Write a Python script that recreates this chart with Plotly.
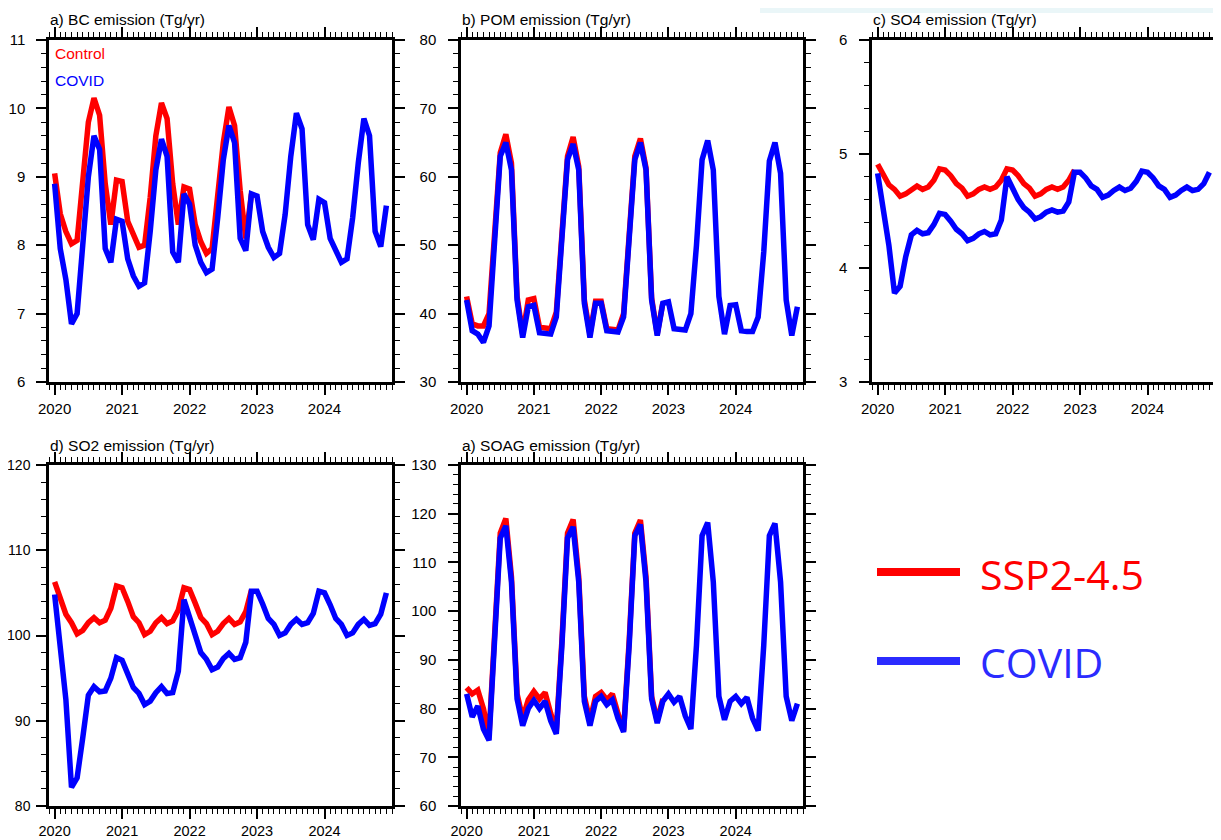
import plotly.graph_objects as go

# page is 1221x840; the html body has an 8px margin, so the figure is placed at (8, 8)
OFF = 8
W, H = 1221 - OFF, 840 - OFF

# ---------------- data (monthly, Jan 2020 .. Dec 2024) ----------------
year_ticks = [2020, 2021, 2022, 2023, 2024]
year_labels = ["2020", "2021", "2022", "2023", "2024"]
n_ctrl = 36
n_covid = 60

bc_ctrl = [9.05, 8.46, 8.2, 8.02, 8.07, 9.0, 9.8, 10.15, 9.9, 8.9, 8.3, 8.95,
           8.93, 8.35, 8.15, 7.97, 8.0, 8.7, 9.6, 10.08, 9.85, 8.9, 8.3, 8.85,
           8.82, 8.3, 8.05, 7.88, 7.95, 8.7, 9.5, 10.02, 9.75, 8.8, 8.1, 8.75]
bc_covid = [8.9, 7.95, 7.5, 6.85, 7.0, 8.1, 9.0, 9.6, 9.4, 7.95, 7.75, 8.38,
            8.35, 7.8, 7.55, 7.4, 7.45, 8.2, 9.1, 9.55, 9.3, 7.9, 7.75, 8.75,
            8.6, 8.0, 7.75, 7.6, 7.65, 8.4, 9.25, 9.75, 9.5, 8.1, 7.92, 8.75,
            8.72, 8.2, 7.97, 7.82, 7.88, 8.45, 9.3, 9.93, 9.7, 8.3, 8.08, 8.67,
            8.62, 8.1, 7.9, 7.75, 7.8, 8.4, 9.2, 9.85, 9.6, 8.2, 7.98, 8.58]

pom_ctrl = [42.5, 38.5, 38.2, 38.2, 40.0, 51.0, 63.5, 66.2, 62.0, 42.5, 37.0, 42.0,
            42.2, 38.0, 37.8, 37.8, 40.2, 51.0, 63.0, 65.8, 61.5, 42.0, 37.0, 41.8,
            41.8, 37.8, 37.6, 37.6, 40.0, 50.5, 63.0, 65.6, 61.3, 42.3, 37.0, 41.6]
pom_covid = [42.0, 37.5, 37.0, 35.8, 38.2, 50.0, 63.0, 65.0, 61.0, 42.0, 36.5, 41.0,
             41.2, 37.2, 37.0, 37.0, 39.5, 50.0, 62.5, 64.8, 61.0, 41.5, 36.5, 41.5,
             41.5, 37.5, 37.3, 37.3, 39.5, 50.0, 62.5, 65.0, 61.0, 42.0, 36.8, 41.5,
             41.7, 37.8, 37.6, 37.6, 40.0, 50.0, 62.5, 65.3, 61.0, 42.5, 37.0, 41.2,
             41.3, 37.5, 37.4, 37.4, 39.5, 49.0, 62.3, 65.0, 60.5, 42.0, 36.8, 41.0]

so4_ctrl = [4.91, 4.82, 4.73, 4.69, 4.63, 4.65, 4.69, 4.72, 4.69, 4.71, 4.77, 4.87,
            4.86, 4.81, 4.74, 4.70, 4.63, 4.65, 4.69, 4.71, 4.69, 4.71, 4.77, 4.87,
            4.86, 4.81, 4.74, 4.70, 4.63, 4.65, 4.69, 4.71, 4.69, 4.71, 4.77, 4.86]
so4_covid = [4.83, 4.52, 4.20, 3.78, 3.84, 4.10, 4.29, 4.33, 4.30, 4.31, 4.38, 4.48,
             4.47, 4.41, 4.34, 4.30, 4.24, 4.26, 4.30, 4.32, 4.29, 4.30, 4.42, 4.80,
             4.70, 4.60, 4.53, 4.49, 4.43, 4.45, 4.49, 4.51, 4.49, 4.50, 4.58, 4.84,
             4.84, 4.79, 4.72, 4.69, 4.62, 4.64, 4.68, 4.71, 4.68, 4.70, 4.76, 4.85,
             4.84, 4.79, 4.72, 4.69, 4.62, 4.64, 4.68, 4.71, 4.68, 4.69, 4.74, 4.84]

so2_ctrl = [106.3, 104.2, 102.5, 101.5, 100.2, 100.6, 101.5, 102.1, 101.5, 101.8, 103.2, 105.8,
            105.6, 104.0, 102.2, 101.5, 100.1, 100.5, 101.5, 102.1, 101.4, 101.7, 103.0, 105.6,
            105.4, 103.8, 102.1, 101.4, 100.1, 100.5, 101.4, 102.0, 101.3, 101.6, 102.8, 105.3]
so2_covid = [104.8, 99.0, 92.5, 82.2, 83.3, 88.0, 93.0, 94.0, 93.4, 93.5, 95.0, 97.4,
             97.1, 95.5, 93.9, 93.2, 91.9, 92.3, 93.3, 94.0, 93.2, 93.3, 95.8, 104.2,
             102.0, 100.0, 98.0, 97.2, 96.0, 96.3, 97.3, 97.9, 97.2, 97.4, 99.2, 105.2,
             105.2, 103.7, 102.0, 101.3, 100.0, 100.3, 101.3, 101.9, 101.3, 101.5, 102.6, 105.2,
             105.0, 103.6, 102.0, 101.3, 100.0, 100.3, 101.3, 101.9, 101.2, 101.4, 102.5, 105.0]

soag_ctrl = [84.3, 83.0, 83.8, 80.0, 74.5, 93.0, 116.0, 119.0, 107.0, 83.0, 78.0, 81.8,
             83.5, 82.0, 83.3, 79.0, 75.5, 94.0, 116.0, 118.8, 107.0, 82.5, 77.5, 82.5,
             83.3, 81.8, 83.0, 79.0, 75.5, 94.0, 116.0, 118.7, 107.0, 82.5, 77.5, 82.0]
soag_covid = [83.0, 78.3, 80.5, 75.8, 73.5, 92.0, 115.0, 117.5, 106.0, 82.0, 76.5, 80.0,
              81.7, 80.0, 81.5, 77.5, 74.8, 93.0, 115.0, 117.3, 106.0, 81.5, 76.5, 81.5,
              82.5, 80.8, 81.8, 78.0, 75.2, 93.0, 115.5, 117.8, 106.0, 82.0, 77.0, 81.5,
              83.0, 81.3, 82.5, 78.5, 75.8, 93.0, 115.5, 118.2, 106.0, 82.5, 77.7, 81.5,
              82.5, 81.0, 82.3, 78.0, 75.5, 93.0, 115.5, 118.0, 106.0, 82.5, 77.5, 81.0]

titles = ["a) BC emission (Tg/yr)", "b) POM emission (Tg/yr)", "c) SO4 emission (Tg/yr)",
          "d) SO2 emission (Tg/yr)", "a) SOAG emission (Tg/yr)"]
ctrl_series = [bc_ctrl, pom_ctrl, so4_ctrl, so2_ctrl, soag_ctrl]
covid_series = [bc_covid, pom_covid, so4_covid, so2_covid, soag_covid]
y_ranges = [[6, 11], [30, 80], [3, 6], [80, 120], [60, 130]]
y_dticks = [1, 10, 1, 10, 10]
y_minor = [0.2, 2, 0.2, 2, 2]

legend_names = ["SSP2-4.5", "COVID"]

x_months = [2020 + m / 12 for m in range(n_covid)]


def px(x):
    return (x - OFF) / W


def py(y):
    return 1 - (y - OFF) / H


# ---------------- layout geometry (page pixels) ----------------
boxes = [  # x0, x1, y0(top), y1(bottom)
    (49, 392, 40, 382),
    (461, 803, 40, 382),
    (872, 1215, 40, 382),
    (49, 392, 465, 806),
    (461, 803, 465, 806),
]
y_standoff = [8, 9, 9, 3, 9]
y_fontsize = [15, 15, 15, 14, 15]
x_standoff = [1, 1, 1, 0, 0]
x_fontsize = [15, 15, 15, 14.5, 14.5]

RED = "#ff0000"
BLUE = "#0000ff"
FONT = "Liberation Sans, Arial, sans-serif"

fig = go.Figure()
layout = dict(
    width=W, height=H,
    margin=dict(l=0, r=0, t=0, b=0, pad=0, autoexpand=False),
    paper_bgcolor="white", plot_bgcolor="white",
    showlegend=False,
    font=dict(family=FONT, size=15, color="black"),
)
annotations = []
shapes = []

for i in range(5):
    k = "" if i == 0 else str(i + 1)
    x0, x1, y0, y1 = boxes[i]
    fig.add_trace(go.Scatter(
        x=x_months[:n_ctrl], y=ctrl_series[i], mode="lines",
        line=dict(color=RED, width=5.5), xaxis="x" + k, yaxis="y" + k,
        name="Control"))
    fig.add_trace(go.Scatter(
        x=x_months, y=covid_series[i], mode="lines",
        line=dict(color=BLUE, width=5.5), xaxis="x" + k, yaxis="y" + k,
        name="COVID"))
    layout["xaxis" + k] = dict(
        domain=[px(x0), px(x1)], anchor="y" + k, automargin=False,
        range=[2020 - 1 / 12, 2025],
        tickmode="array", tickvals=year_ticks, ticktext=year_labels,
        ticks="outside", ticklen=10, tickwidth=2, tickcolor="black",
        showline=True, linewidth=2.5, linecolor="black", mirror="allticks",
        minor=dict(tickmode="linear", tick0=2020, dtick=1 / 12, ticks="outside",
                   ticklen=5, tickwidth=1.3, tickcolor="black", showgrid=False),
        showgrid=False, zeroline=False, ticklabelstandoff=x_standoff[i],
        tickfont=dict(family=FONT, size=x_fontsize[i], color="black"),
    )
    layout["yaxis" + k] = dict(
        domain=[py(y1), py(y0)], anchor="x" + k, automargin=False,
        range=y_ranges[i], tickmode="linear", tick0=y_ranges[i][0], dtick=y_dticks[i],
        ticks="outside", ticklen=10, tickwidth=2, tickcolor="black",
        showline=True, linewidth=2.5, linecolor="black", mirror="allticks",
        minor=dict(tickmode="linear", tick0=y_ranges[i][0], dtick=y_minor[i],
                   ticks="outside", ticklen=5, tickwidth=1.3, tickcolor="black",
                   showgrid=False),
        showgrid=False, zeroline=False, ticklabelstandoff=y_standoff[i],
        tickfont=dict(family=FONT, size=y_fontsize[i], color="black"),
    )
    annotations.append(dict(
        text=titles[i], xref="paper", yref="paper",
        x=px(x0 - 1), y=py(y0 - 20), xanchor="left", yanchor="middle",
        showarrow=False, font=dict(family=FONT, size=15.5, color="black")))

# in-panel labels (panel a)
annotations.append(dict(text="Control", xref="paper", yref="paper", x=px(53), y=py(53.5),
                        xanchor="left", yanchor="middle", showarrow=False,
                        font=dict(family=FONT, size=15.5, color=RED)))
annotations.append(dict(text="COVID", xref="paper", yref="paper", x=px(53), y=py(80.5),
                        xanchor="left", yanchor="middle", showarrow=False,
                        font=dict(family=FONT, size=15.5, color=BLUE)))

# big legend bottom right
LEG_BLUE = "#2b2bff"
shapes.append(dict(type="line", xref="paper", yref="paper",
                   x0=px(877), x1=px(960), y0=py(572), y1=py(572),
                   line=dict(color=RED, width=8)))
shapes.append(dict(type="line", xref="paper", yref="paper",
                   x0=px(877), x1=px(960), y0=py(661), y1=py(661),
                   line=dict(color=LEG_BLUE, width=8)))
annotations.append(dict(text=legend_names[0], xref="paper", yref="paper", x=px(978), y=py(574),
                        xanchor="left", yanchor="middle", showarrow=False,
                        font=dict(family="Open Sans, Noto Sans, sans-serif", size=41, color=RED)))
annotations.append(dict(text=legend_names[1], xref="paper", yref="paper", x=px(978), y=py(662),
                        xanchor="left", yanchor="middle", showarrow=False,
                        font=dict(family="Open Sans, Noto Sans, sans-serif", size=41, color=LEG_BLUE)))

# faint slide tint at the top
shapes.append(dict(type="rect", xref="paper", yref="paper", x0=px(760), x1=1, y0=py(13), y1=1,
                   line=dict(width=0), fillcolor="#eaf6f8", layer="below"))

layout["annotations"] = annotations
layout["shapes"] = shapes
fig.update_layout(**layout)
fig.write_html("out.html")
